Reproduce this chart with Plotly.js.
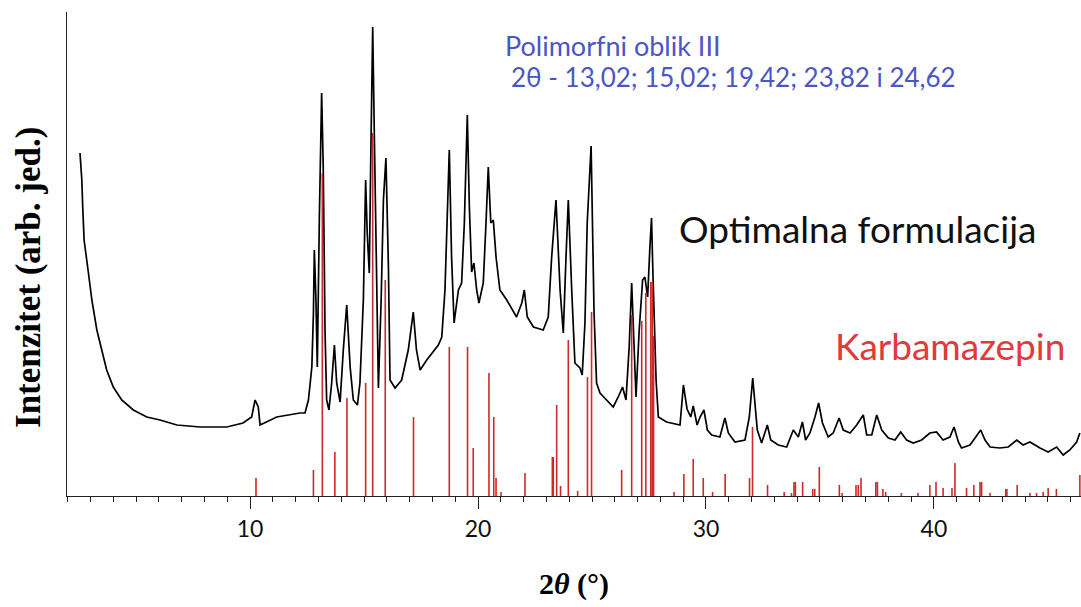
<!DOCTYPE html>
<html>
<head>
<meta charset="utf-8">
<script src="https://cdn.plot.ly/plotly-3.0.1.min.js"></script>
<style>html,body{margin:0;padding:0;background:#fff;}#chart{width:1081px;height:607px;}</style>
</head>
<body>
<div id="chart"></div>
<script>
// Measured XRD pattern of the optimal formulation (2theta in degrees, intensity in arb. units)
const patternX = [2.54,2.62,2.66,2.72,2.91,3.06,3.28,3.50,3.71,4.00,4.37,4.88,5.47,6.05,6.79,7.81,8.98,9.69,10.07,10.22,10.36,10.44,11.17,12.19,
12.41,12.56,12.71,12.78,12.82,12.89,12.95,13.04,13.14,13.21,13.29,13.36,13.46,13.58,13.70,13.80,13.95,14.09,14.24,14.39,14.53,14.71,14.82,14.97,15.07,15.14,15.23,15.29,15.38,15.45,15.56,15.63,15.75,15.85,15.96,16.07,16.14,16.36,16.65,16.94,17.16,17.30,17.46,17.75,18.26,
18.41,18.55,18.65,18.74,18.84,18.95,19.14,19.28,19.40,19.53,19.62,19.72,19.82,19.94,20.04,20.23,20.35,20.45,20.56,20.67,20.79,20.96,21.26,21.69,21.92,22.03,22.16,22.43,22.86,23.08,23.23,23.42,23.60,23.74,23.86,23.96,24.11,24.25,24.47,24.57,24.69,24.79,24.96,25.03,25.09,25.20,25.35,25.64,25.93,26.15,26.34,26.49,26.63,26.74,26.84,26.93,27.07,27.22,27.32,27.44,27.54,27.61,27.68,27.81,27.91,28.27,28.86,
29.01,29.17,29.33,29.44,29.61,29.74,29.91,30.06,30.25,30.61,30.83,30.98,31.27,31.71,31.90,32.05,32.15,32.25,32.44,32.69,32.84,33.17,33.54,33.83,34.05,34.23,34.37,34.56,34.78,34.94,35.11,35.36,35.58,35.84,36.02,36.32,36.61,36.90,37.05,37.27,37.49,37.71,38.00,38.29,38.54,38.80,39.09,39.46,39.82,40.11,40.40,40.70,40.88,41.07,41.21,41.58,41.80,42.05,42.24,42.46,42.89,43.26,43.63,43.91,44.21,44.65,45.01,45.38,45.67,45.96,46.26,46.40];
const patternY = [343,316,289,256,223,196,166,146,126,109,96,86,79,76,71,69,69,73,79,96,89,71,79,83,
83,96,129,183,246,196,129,279,403,329,163,96,86,113,151,113,94,146,191,129,96,91,113,196,316,263,223,329,469,363,196,108,196,296,338,229,116,108,116,146,184,146,126,136,151,
159,206,273,346,239,173,206,213,273,381,289,224,233,206,193,213,273,329,273,276,239,206,196,179,193,206,179,169,166,179,239,296,206,163,239,296,206,133,128,121,173,273,350,266,183,113,103,96,89,99,109,96,149,213,143,99,166,216,219,199,249,278,216,116,79,74,71,
111,87,79,90,71,79,86,66,61,59,78,63,54,56,79,118,93,66,53,71,56,51,49,66,59,74,56,63,79,93,73,59,63,78,66,63,71,81,61,61,81,66,58,56,64,56,53,56,63,64,56,59,69,54,48,51,58,66,56,49,48,49,56,51,54,48,44,49,41,46,54,63];

// Reference pattern of carbamazepine (stick positions and relative intensities)
const refX = [10.26,12.78,13.17,13.72,14.25,15.07,15.38,15.93,17.17,18.74,19.54,19.79,20.48,20.69,20.79,21.01,22.06,23.26,23.30,23.45,23.62,23.96,24.37,24.80,24.98,26.30,26.74,27.18,27.36,27.58,27.64,27.70,28.60,29.03,29.44,29.88,30.29,30.84,31.91,32.04,32.70,33.43,33.75,33.86,33.92,34.24,34.68,34.77,34.97,35.85,35.97,36.58,36.68,36.80,37.45,37.52,37.76,37.88,38.57,39.30,39.82,40.09,40.40,40.79,40.92,41.43,41.75,42.02,42.09,42.46,43.15,43.20,43.65,44.21,44.50,44.79,45.01,45.37,46.40];
const refY = [18,26,323,44,98,113,363,216,79,149,149,48,123,79,18,4,23,39,39,91,10,156,5,119,184,26,181,175,203,214,214,160,4,22,37,18,4,22,18,69,11,4,3,14,14,14,7,7,29,11,3,11,11,18,14,14,7,4,3,3,11,14,8,8,33,8,11,14,14,3,7,7,11,3,3,4,8,7,21];

const xTickVals = [10,20,30,40];
const xTickText = ['10','20','30','40'];

const seriesNames = ['Optimalna formulacija','Karbamazepin'];

// build stick coordinates from the reference arrays
const stickX = [], stickY = [];
for (let i = 0; i < refX.length; i++) {
  stickX.push(refX[i], refX[i], null);
  stickY.push(0, refY[i], null);
}

const traces = [
  {x: patternX, y: patternY, type: 'scatter', mode: 'lines', name: seriesNames[0],
   line: {color: '#000000', width: 1.7}, hoverinfo: 'x+y'},
  {x: stickX, y: stickY, type: 'scatter', mode: 'lines', name: seriesNames[1],
   line: {color: '#d02828', width: 1.6}, hoverinfo: 'x+y'}
];

const layout = {
  width: 1081, height: 607,
  margin: {l: 67, r: 0, t: 12, b: 111},
  paper_bgcolor: '#ffffff', plot_bgcolor: '#ffffff',
  showlegend: false,
  xaxis: {
    range: [1.97, 46.45], showgrid: false, zeroline: false,
    showline: true, linecolor: '#222', linewidth: 1,
    ticks: 'outside', tickvals: xTickVals, ticktext: xTickText, ticklen: 12, tickcolor: '#222', tickwidth: 1,
    minor: {dtick: 1, tick0: 0, ticks: 'outside', ticklen: 5, tickcolor: '#222', tickwidth: 1, showgrid: false},
    tickfont: {family: 'Lato, "Open Sans", sans-serif', size: 23, color: '#111'},
    title: {text: '<b>2<i>θ</i> (°)</b>', font: {family: '"Liberation Serif", "Times New Roman", serif', size: 30, color: '#000'}, standoff: 32},
    automargin: false
  },
  yaxis: {
    range: [0, 484], showgrid: false, zeroline: false,
    showline: true, linecolor: '#222', linewidth: 1,
    ticks: '', showticklabels: false, automargin: false
  },
  annotations: [
    {xref: 'paper', yref: 'paper', x: -0.0375, y: 0.4525, xanchor: 'center', yanchor: 'middle',
     textangle: -90, showarrow: false, text: '<b>Intenzitet (arb. jed.)</b>',
     font: {family: '"Liberation Serif", "Times New Roman", serif', size: 35, color: '#000'}},
    {xref: 'x', yref: 'y', x: 21.10, y: 451, xanchor: 'left', yanchor: 'middle', showarrow: false,
     text: 'Polimorfni oblik III', font: {family: 'Lato, "Open Sans", sans-serif', size: 27, color: '#4a55c8'}},
    {xref: 'x', yref: 'y', x: 21.36, y: 419, xanchor: 'left', yanchor: 'middle', showarrow: false,
     text: '2θ - 13,02; 15,02; 19,42; 23,82 i 24,62', font: {family: 'Lato, "Open Sans", sans-serif', size: 26, color: '#4a55c8'}},
    {xref: 'x', yref: 'y', x: 28.73, y: 268, xanchor: 'left', yanchor: 'middle', showarrow: false,
     text: 'Optimalna formulacija', font: {family: 'Lato, "Open Sans", sans-serif', size: 37, color: '#111'}},
    {xref: 'x', yref: 'y', x: 35.57, y: 151, xanchor: 'left', yanchor: 'middle', showarrow: false,
     text: 'Karbamazepin', font: {family: 'Lato, "Open Sans", sans-serif', size: 37, color: '#e03a3a'}}
  ]
};

Plotly.newPlot('chart', traces, layout, {staticPlot: true, displayModeBar: false});
</script>
</body>
</html>
